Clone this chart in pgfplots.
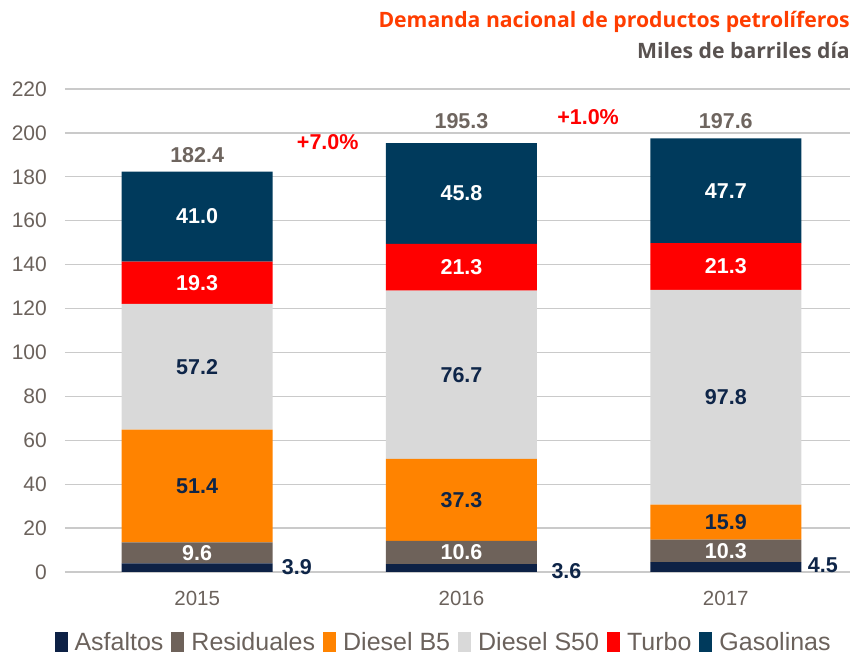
\documentclass[border=0pt]{standalone}
\usepackage{pgfplots}
\pgfplotsset{compat=1.18}
\usepackage{fontspec}
\setmainfont{Liberation Sans}
\newfontfamily\titlefont{Open Sans}
\definecolor{asf}{HTML}{0D2145}
\definecolor{res}{HTML}{6E625A}
\definecolor{dbf}{HTML}{FF8300}
\definecolor{dsf}{HTML}{D9D9D9}
\definecolor{turbo}{HTML}{FF0000}
\definecolor{gas}{HTML}{003A5C}
\definecolor{lbl}{HTML}{0E2548}
\definecolor{totc}{HTML}{6E655F}
\definecolor{tickc}{HTML}{6B625C}
\definecolor{gridc}{HTML}{CACACA}
\definecolor{titc}{HTML}{FF3D00}
\definecolor{subc}{HTML}{595250}
\tikzset{lab/.style={font=\fontsize{21.5bp}{25bp}\selectfont\bfseries, inner sep=0pt}}
\begin{document}
\begin{tikzpicture}[x=1bp,y=1bp]
\begin{axis}[
  at={(0,0)}, anchor=south west,
  scale only axis, width=785bp, height=483bp,
  ymin=0, ymax=220, xmin=-0.5, xmax=2.47,
  ybar stacked, bar width=151bp,
  clip=false,
  /pgf/number format/assume math mode=true,
  axis line style={draw=none},
  ymajorgrids, grid style={color=gridc, line width=1.3bp},
  major tick style={draw=none},
  ytick={0,20,...,220},
  xtick={0,1,2}, xticklabels={2015,2016,2017},
  yticklabel style={font=\fontsize{21bp}{25bp}\selectfont, text=tickc, anchor=east, inner sep=0pt, xshift=-18bp},
  xticklabel style={font=\fontsize{20.5bp}{25bp}\selectfont, text=tickc, anchor=base, inner sep=0pt, yshift=-34bp},
  legend columns=6,
  legend style={draw=none, fill=none, at={(0.481,-0.145)}, anchor=center,
    font=\fontsize{25bp}{29bp}\selectfont, text=tickc,
    /tikz/every even column/.append style={column sep=8bp},
    /tikz/every odd column/.append style={column sep=7bp},
    nodes={inner xsep=0bp, inner ysep=1bp}},
  legend image code/.code={\path (0bp,-10bp) rectangle (13bp,10bp); \fill[#1] (0bp,-9bp) rectangle (13bp,4bp);},
]
\addplot[fill=asf, draw=none] coordinates {(0,3.9) (1,3.6) (2,4.5)};
\addlegendentry{Asfaltos}
\addplot[fill=res, draw=none] coordinates {(0,9.6) (1,10.6) (2,10.3)};
\addlegendentry{Residuales}
\addplot[fill=dbf, draw=none] coordinates {(0,51.4) (1,37.3) (2,15.9)};
\addlegendentry{Diesel B5}
\addplot[fill=dsf, draw=none] coordinates {(0,57.2) (1,76.7) (2,97.8)};
\addlegendentry{Diesel S50}
\addplot[fill=turbo, draw=none] coordinates {(0,19.3) (1,21.3) (2,21.3)};
\addlegendentry{Turbo}
\addplot[fill=gas, draw=none] coordinates {(0,41.0) (1,45.8) (2,47.7)};
\addlegendentry{Gasolinas}
% segment label anchors
\coordinate (a1) at (axis cs:0,8.7);
\coordinate (a2) at (axis cs:0,39.2);
\coordinate (a3) at (axis cs:0,93.5);
\coordinate (a4) at (axis cs:0,131.75);
\coordinate (a5) at (axis cs:0,161.9);
\coordinate (b1) at (axis cs:1,8.9);
\coordinate (b2) at (axis cs:1,32.85);
\coordinate (b3) at (axis cs:1,89.85);
\coordinate (b4) at (axis cs:1,138.85);
\coordinate (b5) at (axis cs:1,172.4);
\coordinate (c1) at (axis cs:2,9.65);
\coordinate (c2) at (axis cs:2,22.75);
\coordinate (c3) at (axis cs:2,79.6);
\coordinate (c4) at (axis cs:2,139.15);
\coordinate (c5) at (axis cs:2,173.65);
% asfaltos labels
\node[lab, text=lbl, anchor=west] at (axis cs:0.32,2.2) {3.9};
\node[lab, text=lbl, anchor=west] at (axis cs:1.34,0.5) {3.6};
\node[lab, text=lbl, anchor=west] at (axis cs:2.31,3.2) {4.5};
% totals
\node[lab, text=totc] at (axis cs:0,190) {182.4};
\node[lab, text=totc] at (axis cs:1,205.5) {195.3};
\node[lab, text=totc] at (axis cs:2,205.5) {197.6};
% growth
\node[lab, text=turbo] at (axis cs:0.494,195.7) {+7.0\%};
\node[lab, text=turbo] at (axis cs:1.479,207.3) {+1.0\%};
\end{axis}
\node[lab, text=white] at (a1) {9.6};
\node[lab, text=lbl] at (a2) {51.4};
\node[lab, text=lbl] at (a3) {57.2};
\node[lab, text=white] at (a4) {19.3};
\node[lab, text=white] at (a5) {41.0};
\node[lab, text=white] at (b1) {10.6};
\node[lab, text=lbl] at (b2) {37.3};
\node[lab, text=lbl] at (b3) {76.7};
\node[lab, text=white] at (b4) {21.3};
\node[lab, text=white] at (b5) {45.8};
\node[lab, text=white] at (c1) {10.3};
\node[lab, text=lbl] at (c2) {15.9};
\node[lab, text=lbl] at (c3) {97.8};
\node[lab, text=white] at (c4) {21.3};
\node[lab, text=white] at (c5) {47.7};
\node[anchor=base east, inner sep=0pt, text=titc, font=\titlefont\bfseries\fontsize{21.2bp}{25bp}\selectfont] at (785,544) {Demanda nacional de productos petrolíferos};
\node[anchor=base east, inner sep=0pt, text=subc, font=\titlefont\bfseries\fontsize{21.2bp}{26bp}\selectfont] at (785,513) {Miles de barriles día};
\pgfresetboundingbox
\path[use as bounding box] (-65,-83) rectangle (789,572);
\end{tikzpicture}
\end{document}
